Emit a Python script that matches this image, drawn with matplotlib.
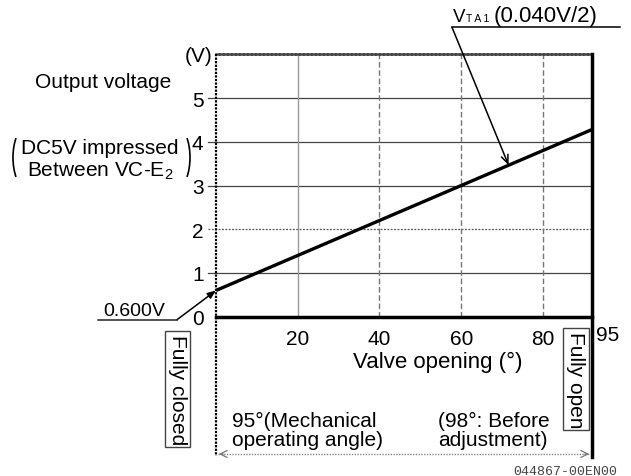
import matplotlib
matplotlib.use("Agg")
import matplotlib.pyplot as plt
from matplotlib.patches import Arc
import numpy as np

plt.rcParams['font.family'] = ['Liberation Sans', 'DejaVu Sans']
plt.rcParams['mathtext.fontset'] = 'custom'
plt.rcParams['mathtext.rm'] = 'Liberation Sans'

# sensor characteristic: 0.600 V at fully closed, 0.040 V per degree
angle = [0, 95]
volts = [0.600, 4.400]

y_ticks = [0, 1, 2, 3, 4, 5]
y_grid = [1, 2, 3, 4, 5]
y_grid_dotted = [False, True, False, False, False]
x_ticks = [20, 40, 60, 80]
x_grid_dashed = [False, True, True, True]

W, H = 631, 477
fig = plt.figure(figsize=(W / 100, H / 100), dpi=100)
ax = fig.add_axes([216 / W, 1 - 317.7 / H, (592 - 216) / W, (317.7 - 55.3) / H])
ax.set_xlim(0, 92)
ax.set_ylim(0, 6)

# overlay in pixel units for the call-outs and notes
ov = fig.add_axes([0, 0, 1, 1])
ov.set_xlim(0, W)
ov.set_ylim(H, 0)
ov.axis('off')
ov.patch.set_alpha(0)

FS = 15

# grid
for y, dotted in zip(y_grid, y_grid_dotted):
    ax.plot([-0.022, 1], [y, y], transform=ax.get_yaxis_transform(), clip_on=False,
            color='#555' if dotted else '#444', lw=0.9,
            linestyle=(0, (1.5, 1.2)) if dotted else '-', zorder=1)
for x, dashed in zip(x_ticks, x_grid_dashed):
    ax.axvline(x, color='#777' if dashed else '#999', lw=1,
               linestyle=(0, (4, 2)) if dashed else '-', zorder=1)

# the output line
ax.plot(angle, volts, color='black', lw=2.4, solid_capstyle='butt', zorder=3)

# frame
ax.spines['left'].set_visible(False)
ax.spines['right'].set_visible(False)
ax.spines['top'].set_linestyle((0, (1, 0.6)))
ax.spines['top'].set_linewidth(1.8)
ax.spines['top'].set_color('#444')
ax.spines['bottom'].set_linewidth(2.5)
ax.plot([0, 0], [1, -0.53], transform=ax.transAxes, clip_on=False,
        color='black', lw=1.6, linestyle=(0, (1, 0.6)), zorder=4)
ax.plot([1, 1], [1, -0.535], transform=ax.transAxes, clip_on=False,
        color='black', lw=2.5, zorder=4)

ax.set_yticks(y_ticks)
ax.set_yticklabels([str(v) for v in y_ticks])
ax.set_xticks(x_ticks)
ax.set_xticklabels([str(v) for v in x_ticks])
ax.tick_params(axis='y', length=0, pad=9, labelsize=FS)
ax.tick_params(axis='x', length=0, pad=9, labelsize=FS)
ov.text(438, 362, 'Valve opening (°)', fontsize=16, ha='center', va='center')

# y-axis caption
ov.text(213, 57, '(V)', fontsize=FS, ha='right', va='center')
ov.text(103, 83, 'Output voltage', fontsize=FS, ha='center', va='center')
ov.text(100, 148.5, 'DC5V impressed', fontsize=FS, ha='center', va='center')
ov.text(100, 171, 'Between VC-E$_\\mathregular{2}$', fontsize=FS, ha='center', va='center')
ov.add_patch(Arc((25.1, 158.5), 24.2, 58.6, theta1=115, theta2=245, color='black', lw=1.2))
ov.add_patch(Arc((177.9, 158.5), 24.2, 58.6, theta1=-65, theta2=65, color='black', lw=1.2))

ov.text(596, 336, '95', fontsize=FS, ha='left', va='center')

box = dict(boxstyle='square,pad=0.15', fc='white', ec='#444', lw=1)
ov.text(177.5, 390, 'Fully closed', fontsize=FS, rotation=270, ha='center', va='center', bbox=box)
ov.text(576, 380, 'Fully open', fontsize=FS, rotation=270, ha='center', va='center', bbox=box)

ov.text(232, 431, '95°(Mechanical\noperating angle)', fontsize=FS, ha='left', va='center',
        linespacing=0.95)
ov.text(438, 431, '(98°: Before\nadjustment)', fontsize=FS, ha='left', va='center',
        linespacing=0.95)

# angle span
ov.plot([218, 590], [455, 455], color='#888', lw=1, linestyle=(0, (1, 1)))
for tip, tail in [((216, 455), (226, 455)), ((592, 455), (582, 455))]:
    ov.annotate('', xy=tip, xytext=tail,
                arrowprops=dict(arrowstyle='->,head_length=0.5,head_width=0.25', color='#777', lw=0.9))

# 0.600 V call-out
ov.plot([98, 177], [320.7, 320.7], color='#222', lw=1.1)
ov.text(103, 316, '0.600V', fontsize=14, ha='left', va='baseline')
ax.annotate('', xy=(angle[0], volts[0]), xycoords='data',
            xytext=(177, 320.7), textcoords=ov.transData, annotation_clip=False,
            arrowprops=dict(arrowstyle='-|>,head_length=0.5,head_width=0.2', color='black',
                            lw=1.1, shrinkA=0, shrinkB=0))

# slope call-out
slope_at = 71.6
ov.plot([452, 620], [28.3, 28.3], color='black', lw=1.1)
ov.text(453, 22, 'V', fontsize=13.5, ha='left', va='baseline')
ov.text(466, 22, 'T A 1', fontsize=7.5, ha='left', va='baseline')
ov.text(494, 22, '(0.040V/2)', fontsize=16, ha='left', va='baseline')
ax.annotate('', xy=(slope_at, np.interp(slope_at, angle, volts)), xycoords='data',
            xytext=(452, 28.3), textcoords=ov.transData, annotation_clip=False,
            arrowprops=dict(arrowstyle='->,head_length=0.6,head_width=0.25', color='black',
                            lw=1.1, shrinkA=0, shrinkB=0))

ov.text(617, 472, '044867-00EN00', fontsize=9.5, family='Liberation Mono', color='#444',
        ha='right', va='center')

fig.savefig('out.png', dpi=100)
